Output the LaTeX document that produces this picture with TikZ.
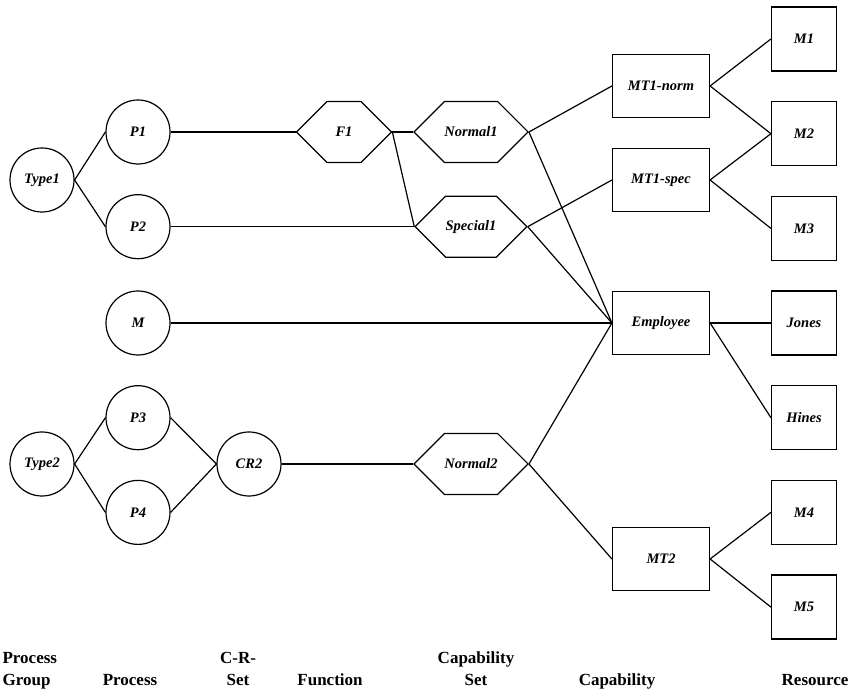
\documentclass[tikz,border=0pt]{standalone}
\usepackage{fontspec}
\setmainfont{Liberation Serif}
\usetikzlibrary{arrows,shapes.symbols,positioning}

\begin{document}
\begin{tikzpicture}[x=1pt,y=1pt,line width=1.2pt,node distance=94.7pt,
                    name font/.style={font=\fontsize{14.5}{16}\selectfont\bfseries\itshape},
                    circ node/.style={circle,draw,minimum size=64pt,inner sep=0pt,name font},
                    hex node/.style={signal,signal to=east and west,signal pointer angle=90,
                                     draw,minimum width=95pt,minimum height=61pt,inner sep=0pt,name font},
                    cap node/.style={rectangle,draw,minimum width=97pt,minimum height=63pt,inner sep=0pt,name font},
                    res node/.style={rectangle,draw,minimum width=65pt,minimum height=64pt,inner sep=0pt,name font},
                    col label/.style={anchor=base,inner sep=0pt,font=\fontsize{17}{22}\selectfont\bfseries}]

  \useasboundingbox (0,0) rectangle (850,692);

  % process groups and processes
  \node[circ node] (p1) at (138,560) {P1};
  \node[circ node] (p2) [below of=p1] {P2};
  \node[circ node] (m)  at (138,369) {M};
  \node[circ node] (p3) [below of=m]  {P3};
  \node[circ node] (p4) [below of=p3] {P4};
  \node[circ node] (t1) at (42,512) {Type1};
  \node[circ node] (t2) at (42,228) {Type2};
  \node[circ node] (cr2) at (249,228) {CR2};

  % functions and capability sets
  \node[hex node] (f1) at (344,560) {F1};
  \node[hex node] (n1) at (471,560) {Normal1};
  \node[hex node] (s1) at (471,465.3) {Special1};
  \node[hex node] (n2) at (471,228) {Normal2};

  % capabilities
  \node[cap node] (mtn) at (661,606) {MT1-norm};
  \node[cap node] (mts) at (661,512) {MT1-spec};
  \node[cap node] (emp) at (661,369) {Employee};
  \node[cap node] (mt2) at (661,133) {MT2};

  % resources
  \node[res node] (m1) at (804,653) {M1};
  \node[res node] (m2) [below of=m1] {M2};
  \node[res node] (m3) [below of=m2] {M3};
  \node[res node] (jones) at (804,369) {Jones};
  \node[res node] (hines) [below of=jones] {Hines};
  \node[res node] (m4) [below of=hines] {M4};
  \node[res node] (m5) [below of=m4] {M5};

  \path
    (t1.east) edge (p1.west)
              edge (p2.west)
    (t2.east) edge (p3.west)
              edge (p4.west)
    (p1.east) edge (f1.west)
    (p2.east) edge (s1.west)
    (m.east)  edge (emp.west)
    (p3.east) edge (cr2.west)
    (p4.east) edge (cr2.west)
    (cr2.east) edge (n2.west)
    (f1.east) edge (n1.west)
              edge (s1.west)
    (n1.east) edge (mtn.west)
              edge (emp.west)
    (s1.east) edge (mts.west)
              edge (emp.west)
    (n2.east) edge (emp.west)
              edge (mt2.west)
    (mtn.east) edge (m1.west)
               edge (m2.west)
    (mts.east) edge (m2.west)
               edge (m3.west)
    (emp.east) edge (jones.west)
               edge (hines.west)
    (mt2.east) edge (m4.west)
               edge (m5.west);

  % column titles
  \node[col label,anchor=base west] (lgroup) at (2,6) {\begin{tabular}[b]{@{}l@{}}Process\\Group\end{tabular}};
  \node[col label] (lproc) at (130,6) {Process};
  \node[col label] (lcrset) at (238,6) {\begin{tabular}[b]{@{}c@{}}C-R-\\Set\end{tabular}};
  \node[col label] (lfunc) at (330,6) {Function};
  \node[col label] (lcapset) at (476,6) {\begin{tabular}[b]{@{}c@{}}Capability\\Set\end{tabular}};
  \node[col label] (lcap) at (617,6) {Capability};
  \node[col label,anchor=base east] (lres) at (849,6) {Resource};
\end{tikzpicture}
\end{document}
